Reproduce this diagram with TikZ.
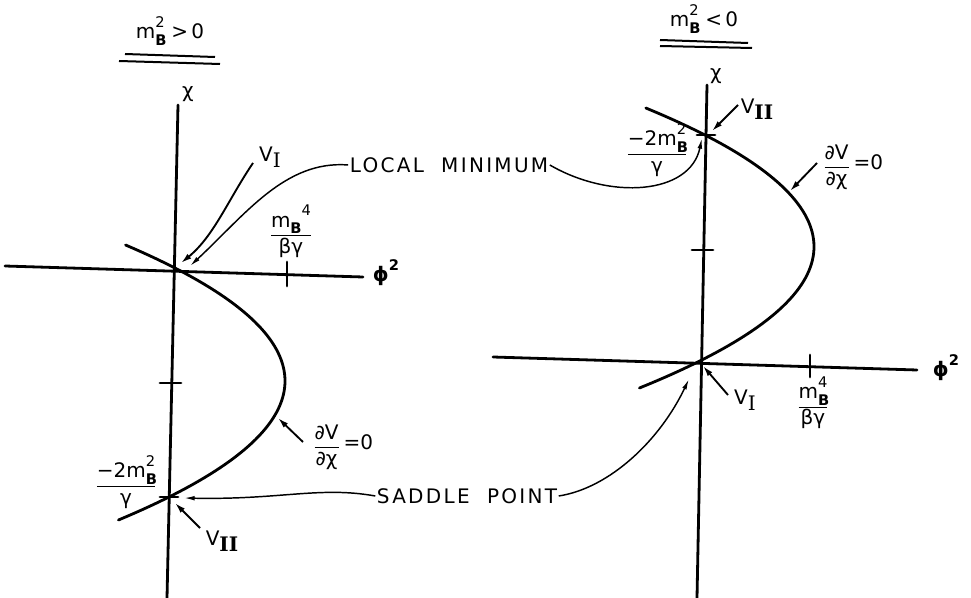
\documentclass[tikz,border=0pt]{standalone}
\usepackage{fontspec}
\setmainfont{DejaVu Sans}
\newfontfamily\lettfont[LetterSpace=11.5]{DejaVu Sans}
\newfontfamily\romfont{DejaVu Serif}
\usetikzlibrary{arrows.meta}
\newcommand\smallfs{\fontsize{11}{11}\selectfont}
\newcommand\mBst[1]{m\rlap{\raisebox{-0.6ex}{\smallfs\bfseries B}}\raisebox{1.0ex}{\smallfs #1}}
\newcommand\mBlong[1]{m\raisebox{-0.6ex}{\smallfs\bfseries B}\raisebox{1.1ex}{\smallfs #1}}
\newcommand\subI{\raisebox{-0.6ex}{\romfont I}}
\newcommand\subII{\raisebox{-0.6ex}{\romfont\bfseries II}}
\tikzset{
  axis/.style={line width=2.1pt, line cap=round},
  curve/.style={line width=2.1pt, line cap=round},
  ptr/.style={line width=1.4pt, -{Latex[length=8pt,width=4.5pt]}},
  lead/.style={line width=1.1pt, -{Latex[length=8pt,width=3.5pt]}},
  lbl/.style={inner sep=1pt, font=\fontsize{15}{17}\selectfont},
  uline/.style={line width=1.5pt}
}
\begin{document}
\begin{tikzpicture}[x=0.75pt,y=-0.75pt]
\useasboundingbox (0,0) rectangle (971,598);
% ---------- left diagram ----------
\coordinate (O1) at (173,267);
\coordinate (S1) at (169,497);
\coordinate (lyt) at (178,105);
\coordinate (lyb) at (167,598);
\coordinate (lxl) at (5,266);
\coordinate (lxr) at (363,277);
\draw[axis] (lyt) -- (lyb);
\draw[axis] (lxl) -- (lxr);
\coordinate (ltx1) at (287,262); \coordinate (ltx2) at (287,286);
\draw[axis] (ltx1) -- (ltx2);
\coordinate (lty1) at (160,383); \coordinate (lty2) at (181,383);
\draw[axis] (lty1) -- (lty2);
\coordinate (lts1) at (160,497); \coordinate (lts2) at (178,497);
\draw[axis] (lts1) -- (lts2);
\draw[curve] plot[domain=245:520, samples=80, variable=\t] ({285-0.00862*(\t-381)*(\t-381)},\t);
% titles
\node[lbl] (t1) at (170,31) {\mBst{2}\,\,>\,0};
\coordinate (u1a) at (125,54); \coordinate (u1b) at (215,57);
\coordinate (u2a) at (119,61); \coordinate (u2b) at (220,64);
\draw[uline] (u1a) -- (u1b);
\draw[uline] (u2a) -- (u2b);
\node[lbl] (chi1) at (188,94) {χ};
\node[lbl] (phi1) at (386,273) {\bfseries ϕ\raisebox{1ex}{\smallfs 2}};
\node[lbl] (f1) at (291,231) {$\displaystyle\frac{\mbox{\mBlong{4}}}{\mbox{βγ}}$};
\node[lbl] (VI1) at (270,157) {V\subI};
\node[lbl] (VII1) at (222,541) {V\subII};
\node[lbl] (m21) at (126,482) {$\displaystyle\frac{\mbox{−2\mBst{2}}}{\mbox{γ}}$};
\node[lbl] (dv1) at (343,447) {$\displaystyle\frac{\mbox{∂V}}{\mbox{∂χ}}$\,\raisebox{0.2ex}{=0}};
% ---------- right diagram ----------
\coordinate (O2) at (698,362);
\coordinate (S2) at (705,135);
\coordinate (ryt) at (707,85);
\coordinate (ryb) at (697,598);
\coordinate (rxl) at (493,357);
\coordinate (rxr) at (917,370);
\draw[axis] (ryt) -- (ryb);
\draw[axis] (rxl) -- (rxr);
\coordinate (rtx1) at (810,355); \coordinate (rtx2) at (810,377);
\draw[axis] (rtx1) -- (rtx2);
\coordinate (rty1) at (692,250); \coordinate (rty2) at (713,250);
\draw[axis] (rty1) -- (rty2);
\coordinate (rts1) at (697,135); \coordinate (rts2) at (715,135);
\draw[axis] (rts1) -- (rts2);
\draw[curve] plot[domain=108:388, samples=80, variable=\t] ({814-0.008736*(\t-246.7)*(\t-246.7)},\t);
\node[lbl] (t2) at (704,19) {\mBst{2}\,\,<\,0};
\coordinate (u3a) at (660,40); \coordinate (u3b) at (748,43);
\coordinate (u4a) at (660,46); \coordinate (u4b) at (752,48);
\draw[uline] (u3a) -- (u3b);
\draw[uline] (u4a) -- (u4b);
\node[lbl] (chi2) at (716,76) {χ};
\node[lbl] (phi2) at (946,368) {\bfseries ϕ\raisebox{1ex}{\smallfs 2}};
\node[lbl] (f2) at (813,403) {$\displaystyle\frac{\mbox{\mBst{4}}}{\mbox{βγ}}$};
\node[lbl] (VI2) at (745,400) {V\subI};
\node[lbl] (VII2) at (757,109) {V\subII};
\node[lbl] (m22) at (657,150) {$\displaystyle\frac{\mbox{−2\mBst{2}}}{\mbox{γ}}$};
\node[lbl] (dv2) at (853,167) {$\displaystyle\frac{\mbox{∂V}}{\mbox{∂χ}}$\,\raisebox{0.2ex}{=0}};
% ---------- shared labels ----------
\node[lbl] (LM) at (449,165) {\lettfont LOCAL\ \ MINIMUM};
\node[lbl] (SP) at (467,496) {\lettfont SADDLE\ \ POINT};
% ---------- pointers ----------
\coordinate (a1s) at (253,163); \coordinate (a1e) at (181,263);
\draw[ptr] (a1s) .. controls (228,200) and (214,236) .. (a1e);
\coordinate (a2e) at (190,266);
\draw[lead] (LM.west) .. controls (285,160) and (245,215) .. (a2e);
\coordinate (a3e) at (702,138);
\draw[lead] (LM.east) .. controls (610,200) and (690,195) .. (a3e);
\coordinate (a4s) at (303,442); \coordinate (a4e) at (278,418);
\draw[ptr] (a4s) -- (a4e);
\coordinate (a5s) at (200,528); \coordinate (a5e) at (175,503);
\draw[ptr] (a5s) -- (a5e);
\coordinate (a6e) at (184,498);
\draw[lead] (SP.west) .. controls (320,486) and (280,500) .. (a6e);
\coordinate (a7e) at (689,379);
\draw[lead] (SP.east) .. controls (610,488) and (660,440) .. (a7e);
\coordinate (a8s) at (738,105); \coordinate (a8e) at (712,131);
\draw[ptr] (a8s) -- (a8e);
\coordinate (a9s) at (817,163); \coordinate (a9e) at (790,191);
\draw[ptr] (a9s) -- (a9e);
\coordinate (a10s) at (728,395); \coordinate (a10e) at (703,366);
\draw[ptr] (a10s) -- (a10e);
\end{tikzpicture}
\end{document}
